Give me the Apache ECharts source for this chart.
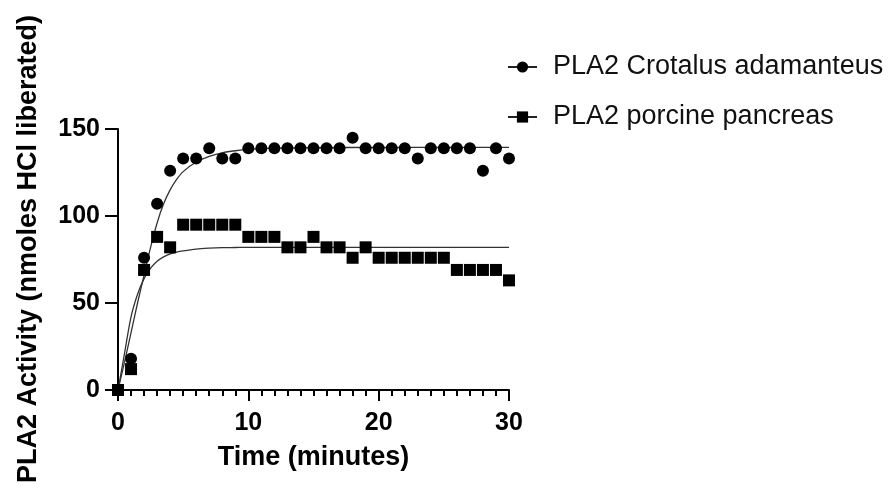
<!DOCTYPE html>
<html>
<head>
<meta charset="utf-8">
<script src="https://cdn.jsdelivr.net/npm/echarts@6/dist/echarts.min.js"></script>
<style>
html,body{margin:0;padding:0;background:#fff;}
#chart{width:892px;height:488px;}
</style>
</head>
<body>
<div id="chart"></div>
<script>
// ---- data ----
const seriesNames = ['PLA2 Crotalus adamanteus', 'PLA2 porcine pancreas'];
const timeMinutes = [0,1,2,3,4,5,6,7,8,9,10,11,12,13,14,15,16,17,18,19,20,21,22,23,24,25,26,27,28,29,30];
const crotalusValues = [0,18,76,107,126,133,133,139,133,133,139,139,139,139,139,139,139,139,145,139,139,139,139,133,139,139,139,139,126,139,133];
const porcineValues  = [0,12,69,88,82,95,95,95,95,95,88,88,88,82,82,88,82,82,76,82,76,76,76,76,76,76,69,69,69,69,63];
// fitted curves
const crotalusFitT = [0,0.5,1,1.5,2,2.5,3,3.5,4,4.5,5,6,7,8,9,10,12,15,20,25,30];
const crotalusFitV = [0,16,33,50,66,82,96,107,115,121,125.5,131,134.3,136.3,137.5,138.3,139,139.3,139.4,139.4,139.4];
const porcineFitT  = [0,0.5,1,1.5,2,2.5,3,3.5,4,4.5,5,6,7,8,9,10,12,15,20,25,30];
const porcineFitV  = [0,21,42,55,64,70,74,76.5,78.2,79.3,80,81,81.5,81.8,81.9,82,82,82,82,82,82];
const xTicks = [0,10,20,30];
const yTicks = [0,50,100,150];
const xTitle = 'Time (minutes)';
const yTitle = 'PLA2 Activity (nmoles HCl liberated)';

const pair = (xs, ys) => xs.map((x, i) => [x, ys[i]]);
const FONT = '"Liberation Sans", Arial, Helvetica, sans-serif';

const chart = echarts.init(document.getElementById('chart'), null, {renderer: 'canvas'});
chart.setOption({
  animation: false,
  backgroundColor: '#ffffff',
  grid: {left: 118, right: 383, top: 129, bottom: 98, containLabel: false},
  legend: {
    orient: 'vertical',
    left: 502, top: 47,
    itemWidth: 29, itemHeight: 14, itemGap: 20,
    data: seriesNames,
    textStyle: {fontFamily: FONT, fontSize: 27, color: '#111', lineHeight: 30, padding: [0,0,0,11]},
    lineStyle: {width: 2, color: '#222'},
    selectedMode: false
  },
  xAxis: {
    type: 'value', min: xTicks[0], max: xTicks[xTicks.length-1], interval: 10,
    name: xTitle, nameLocation: 'middle', nameGap: 54,
    nameTextStyle: {fontFamily: FONT, fontSize: 27, fontWeight: 'bold', color: '#000'},
    axisLine: {show: true, onZero: false, lineStyle: {color: '#000', width: 2}},
    axisTick: {show: true, inside: false, length: 11, lineStyle: {color: '#000', width: 2}},
    minorTick: {show: true, splitNumber: 10, length: 6, lineStyle: {color: '#000', width: 2}},
    axisLabel: {fontFamily: FONT, fontSize: 25, fontWeight: 'bold', color: '#000', margin: 21},
    splitLine: {show: false}
  },
  yAxis: {
    type: 'value', min: yTicks[0], max: yTicks[yTicks.length-1], interval: 50,
    axisLine: {show: true, onZero: false, lineStyle: {color: '#000', width: 2}},
    axisTick: {show: true, inside: false, length: 13, lineStyle: {color: '#000', width: 2}},
    axisLabel: {fontFamily: FONT, fontSize: 25, fontWeight: 'bold', color: '#000', margin: 18},
    splitLine: {show: false}
  },
  graphic: [{
    type: 'text',
    x: 29, y: 249,
    rotation: Math.PI / 2,
    style: {text: yTitle, fontFamily: FONT, fontSize: 27, fontWeight: 'bold', fill: '#000',
            align: 'center', verticalAlign: 'middle'}
  }],
  series: [
    {
      name: seriesNames[0], type: 'line', data: pair(crotalusFitT, crotalusFitV),
      smooth: 0.3, showSymbol: false, symbol: 'circle',
      lineStyle: {color: '#333', width: 1.3}, itemStyle: {color: '#000'}, z: 2, silent: true
    },
    {
      name: seriesNames[1], type: 'line', data: pair(porcineFitT, porcineFitV),
      smooth: 0.3, showSymbol: false, symbol: 'rect',
      lineStyle: {color: '#333', width: 1.3}, itemStyle: {color: '#000'}, z: 2, silent: true
    },
    {
      name: seriesNames[0], type: 'scatter', data: pair(timeMinutes, crotalusValues),
      symbol: 'circle', symbolSize: 12, itemStyle: {color: '#000', opacity: 1}, z: 3
    },
    {
      name: seriesNames[1], type: 'scatter', data: pair(timeMinutes, porcineValues),
      symbol: 'rect', symbolSize: 12, itemStyle: {color: '#000', opacity: 1}, z: 3
    }
  ]
});
</script>
</body>
</html>
